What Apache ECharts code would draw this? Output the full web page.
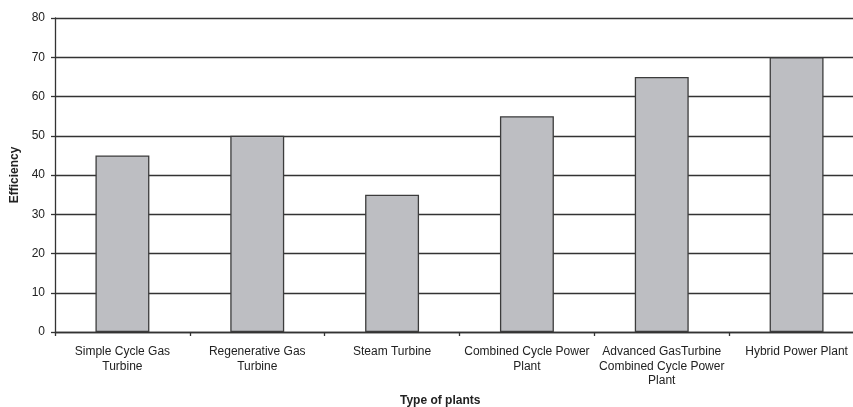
<!DOCTYPE html>
<html>
<head>
<meta charset="utf-8">
<script src="https://cdn.jsdelivr.net/npm/echarts@6/dist/echarts.min.js"></script>
<style>
  html, body { margin: 0; padding: 0; background: #fff; }
  #chart { width: 853px; height: 407px; }
</style>
</head>
<body>
<div id="chart"></div>
<script>
// Plant types (with manual line breaks) and their efficiency in percent
const categories = [
  'Simple Cycle Gas\nTurbine',
  'Regenerative Gas\nTurbine',
  'Steam Turbine',
  'Combined Cycle Power\nPlant',
  'Advanced GasTurbine\nCombined Cycle Power\nPlant',
  'Hybrid Power Plant'
];
const efficiency = [45, 50, 35, 55, 65, 70];
const yTicks = { min: 0, max: 80, interval: 10 };

const font = '"Liberation Sans", Arial, sans-serif';
const ink = '#222222';

const chart = echarts.init(document.getElementById('chart'), null, { renderer: 'canvas' });
chart.setOption({
  animation: false,
  backgroundColor: '#ffffff',
  // the plot runs past the right edge of the canvas
  grid: { left: 55, top: 18, width: 809, height: 314, containLabel: false, outerBoundsMode: 'none' },
  xAxis: {
    type: 'category',
    data: categories,
    boundaryGap: true,
    axisLine: { show: true, lineStyle: { color: '#333', width: 1.3 } },
    axisTick: { show: true, alignWithLabel: false, length: 4, inside: false,
                lineStyle: { color: '#333', width: 1.3 } },
    axisLabel: { interval: 0, margin: 13, color: ink, fontFamily: font, fontSize: 12,
                 lineHeight: 14.3, align: 'center' },
    splitLine: { show: false }
  },
  yAxis: {
    type: 'value',
    min: yTicks.min,
    max: yTicks.max,
    interval: yTicks.interval,
    name: 'Efficiency',
    nameLocation: 'middle',
    nameGap: 34,
    nameRotate: 90,
    nameTextStyle: { color: ink, fontFamily: font, fontSize: 12, fontWeight: 'bold' },
    axisLine: { show: true, lineStyle: { color: '#333', width: 1.3 } },
    axisTick: { show: true, length: 4, lineStyle: { color: '#333', width: 1.3 } },
    axisLabel: { margin: 10, color: ink, fontFamily: font, fontSize: 12 },
    splitLine: { show: true, lineStyle: { color: '#333', width: 1.3 } }
  },
  graphic: [{
    type: 'text',
    left: 400,
    top: 395,
    style: { text: 'Type of plants', fill: ink, font: 'bold 12px ' + font }
  }],
  series: [{
    type: 'bar',
    data: efficiency,
    barWidth: '40%',
    itemStyle: { color: '#bdbec2', borderColor: '#3c3c3c', borderWidth: 1.3 }
  }]
});
</script>
</body>
</html>
